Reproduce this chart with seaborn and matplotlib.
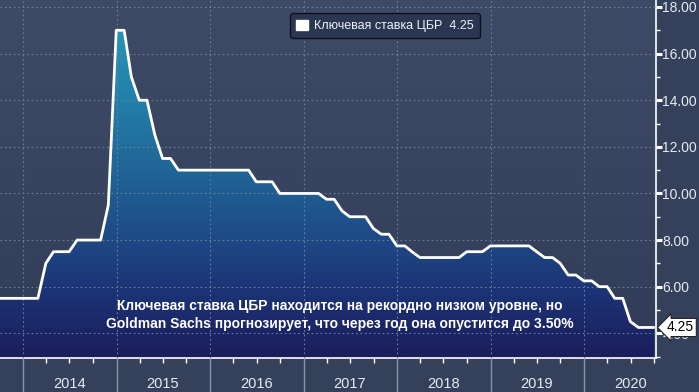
import matplotlib
matplotlib.use("Agg")
import matplotlib.dates as mdates
import matplotlib.pyplot as plt
import matplotlib.transforms as mtransforms
import numpy as np
import pandas as pd
import seaborn as sns
from matplotlib.colors import LinearSegmentedColormap
from matplotlib.patches import Patch
from matplotlib.ticker import FixedLocator, FuncFormatter, MultipleLocator

# ключевая ставка ЦБР, значения на конец месяца (с сентября 2013)
FIRST_MONTH = "2013-09-01"
RATE_2013 = [5.5, 5.5, 5.5, 5.5]
RATE_2014 = [5.5, 5.5, 7.0, 7.5, 7.5, 7.5, 8.0, 8.0, 8.0, 8.0, 9.5, 17.0]
RATE_2015 = [17.0, 15.0, 14.0, 14.0, 12.5, 11.5, 11.5, 11.0, 11.0, 11.0, 11.0, 11.0]
RATE_2016 = [11.0, 11.0, 11.0, 11.0, 11.0, 10.5, 10.5, 10.5, 10.0, 10.0, 10.0, 10.0]
RATE_2017 = [10.0, 10.0, 9.75, 9.75, 9.25, 9.0, 9.0, 9.0, 8.5, 8.25, 8.25, 7.75]
RATE_2018 = [7.75, 7.5, 7.25, 7.25, 7.25, 7.25, 7.25, 7.25, 7.5, 7.5, 7.5, 7.75]
RATE_2019 = [7.75, 7.75, 7.75, 7.75, 7.75, 7.5, 7.25, 7.25, 7.0, 6.5, 6.5, 6.25]
RATE_2020 = [6.25, 6.0, 6.0, 5.5, 5.5, 4.5, 4.25, 4.25, 4.25]

YEARS = [2014, 2015, 2016, 2017, 2018, 2019, 2020]
Y_TICKS = [4, 6, 8, 10, 12, 14, 16, 18]
LEGEND_LABEL = "Ключевая ставка ЦБР"
NOTE = ("Ключевая ставка ЦБР находится на рекордно низком уровне, но\n"
        "Goldman Sachs прогнозирует, что через год она опустится до 3.50%")

X_RANGE = ("2013-10-03", "2020-10-08")
Y_RANGE = (2.94, 18.3)

TEXT_COLOR = "#e6eaf2"
OUTER_BG = "#35415b"

rates = RATE_2013 + RATE_2014 + RATE_2015 + RATE_2016 + RATE_2017 + RATE_2018 + RATE_2019 + RATE_2020
dates = pd.date_range(FIRST_MONTH, periods=len(rates), freq="MS") + pd.offsets.MonthEnd(0)
df = pd.DataFrame({"date": dates, "rate": rates})

sns.set_theme(style="dark")
plt.rcParams["font.family"] = ["Liberation Sans", "DejaVu Sans"]

fig = plt.figure(figsize=(6.99, 3.92), dpi=100, facecolor=OUTER_BG)
ax = fig.add_axes([0, 34 / 392, 656 / 699, 358 / 392])
ax.set_facecolor("#38445f")

x0, x1 = mdates.date2num(pd.Timestamp(X_RANGE[0])), mdates.date2num(pd.Timestamp(X_RANGE[1]))
y0, y1 = Y_RANGE

# фон области графика
bg_cmap = LinearSegmentedColormap.from_list("bg", ["#313c58", "#3e4b67"])
ax.imshow(np.linspace(0, 1, 256).reshape(-1, 1), extent=[0, 1, 0, 1], transform=ax.transAxes,
          origin="lower", aspect="auto", cmap=bg_cmap, zorder=0)

# градиентная заливка под линией
fill_cmap = LinearSegmentedColormap.from_list(
    "fill", [(0.0, "#1b1d5c"), (0.2, "#1c3577"), (0.45, "#1f5b90"), (0.75, "#2383aa"), (1.0, "#299cbb")])
poly = ax.fill_between(mdates.date2num(df["date"]), df["rate"], y0, color="none", lw=0)
grad = ax.imshow(np.linspace(0, 1, 256).reshape(-1, 1), extent=[x0, x1, y0, y1],
                 origin="lower", aspect="auto", cmap=fill_cmap, zorder=1)
grad.set_clip_path(poly.get_paths()[0], transform=ax.transData)

sns.lineplot(data=df, x="date", y="rate", color="white", linewidth=2, ax=ax, zorder=4)

ax.set_xlim(x0, x1)
ax.set_ylim(y0, y1)
ax.set_xlabel("")
ax.set_ylabel("")

# оси
for side in ("left", "top"):
    ax.spines[side].set_visible(False)
for side in ("right", "bottom"):
    ax.spines[side].set_visible(True)
    ax.spines[side].set_color("white")
    ax.spines[side].set_linewidth(1.2)

ax.yaxis.tick_right()
ax.yaxis.set_major_locator(FixedLocator(Y_TICKS))
ax.yaxis.set_minor_locator(MultipleLocator(1))
ax.yaxis.set_major_formatter(FuncFormatter(lambda v, _: f"{v:.2f}"))
ax.tick_params(axis="y", which="major", right=True, direction="out", length=4, width=2.2,
               color="white", labelcolor=TEXT_COLOR, labelsize=10, pad=0.5)
ax.tick_params(axis="y", which="minor", right=True, direction="out", length=3, width=1, color="white")

ax.xaxis.set_major_locator(mdates.YearLocator())
ax.xaxis.set_minor_locator(mdates.MonthLocator(bymonth=[1, 4, 7, 10]))
ax.tick_params(axis="x", which="major", bottom=True, direction="out", length=24.5, width=1,
               color="#8a93a8", labelbottom=False)
ax.tick_params(axis="x", which="minor", bottom=True, direction="out", length=3.5, width=1, color="white")

ax.grid(True, which="major", color="#6d7e9c", linestyle=(0, (1.5, 2.5)), linewidth=0.8)
ax.set_axisbelow(False)

# подписи годов по центру года
year_axis = ax.secondary_xaxis("bottom")
year_axis.set_xticks([mdates.date2num(pd.Timestamp(f"{y}-07-01")) for y in YEARS],
                     labels=[str(y) for y in YEARS])
year_axis.tick_params(length=0, pad=13.5, labelsize=10.5, labelcolor=TEXT_COLOR)
year_axis.spines["bottom"].set_visible(False)

# легенда
leg = ax.legend(handles=[Patch(facecolor="white", edgecolor="white")],
                labels=[f"{LEGEND_LABEL}  {rates[-1]:.2f}"],
                loc="upper center", bbox_to_anchor=(385 / 656, 1 - 7 / 358),
                fontsize=9, handlelength=0.9, handleheight=0.9, handletextpad=0.5,
                borderpad=0.5, fancybox=True, framealpha=1,
                facecolor="#2b3650", edgecolor="#0e1220")
for t in leg.get_texts():
    t.set_color("#eef1f6")
leg.set_zorder(6)

ax.text(340 / 656, 0.12, NOTE, transform=ax.transAxes, ha="center", va="center",
        multialignment="center", color="white", fontsize=10, fontweight="bold",
        linespacing=1.3, zorder=6)

# метка последнего значения
trans = mtransforms.blended_transform_factory(ax.transAxes, ax.transData)
ax.annotate(f"{rates[-1]:.2f}", xy=(1.0, rates[-1]), xycoords=trans,
            xytext=(8, 0), textcoords="offset points", ha="left", va="center",
            color="black", fontsize=10, annotation_clip=False, zorder=7,
            bbox=dict(boxstyle="larrow,pad=0.15", fc="white", ec="#222222", lw=0.8))

fig.savefig("out.png", dpi=100, facecolor=fig.get_facecolor())
